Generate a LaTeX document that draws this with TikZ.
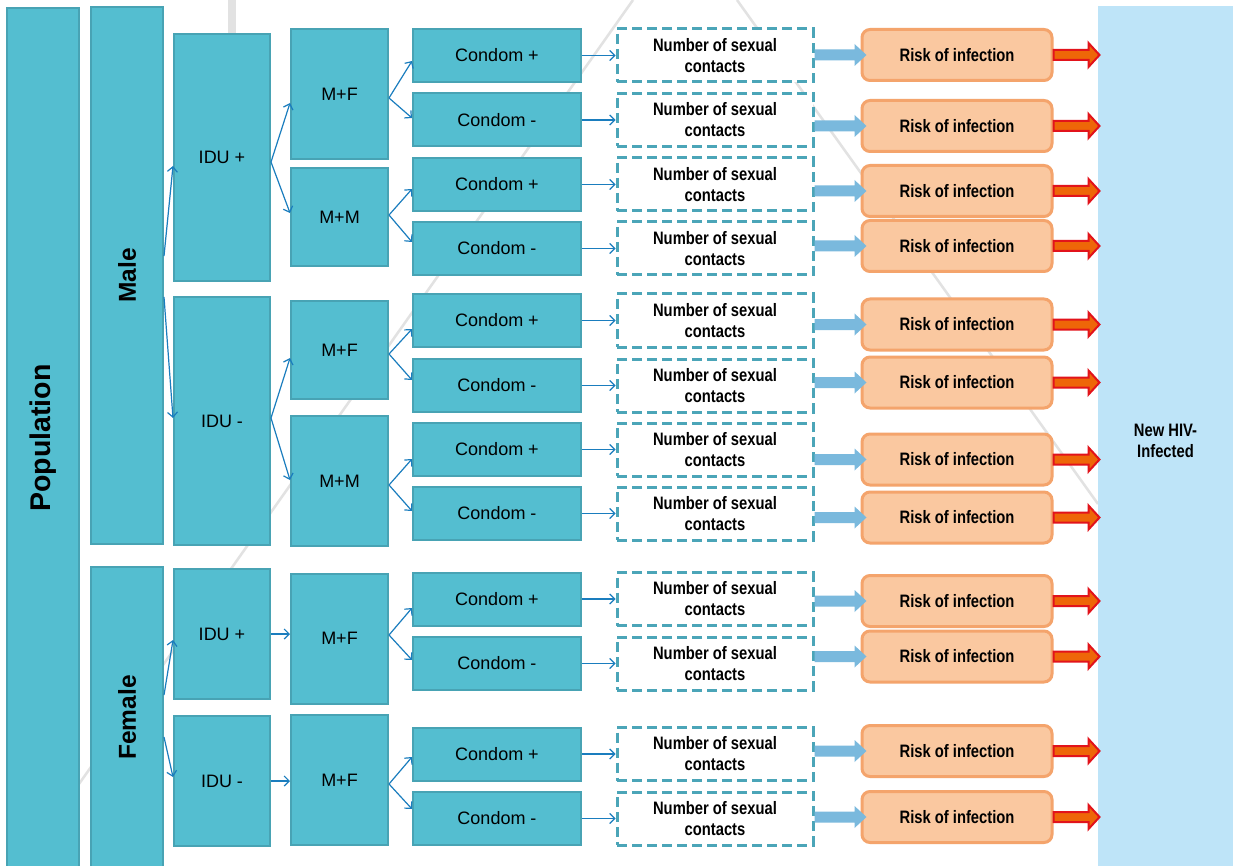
\documentclass[tikz,border=0pt]{standalone}
\usepackage{fontspec}
\usepackage{graphicx}
\usepackage{tikz}
\usetikzlibrary{arrows.meta}
\setmainfont{Liberation Sans}
\newfontfamily\narrowfont[FakeStretch=0.82]{Liberation Sans}
\definecolor{background}{RGB}{255, 255, 255}
\definecolor{boxfill}{HTML}{54BED0}
\definecolor{boxborder}{HTML}{48A3B4}
\definecolor{dashborder}{HTML}{4BA5B8}
\definecolor{flowblue}{HTML}{1A7DBE}
\definecolor{feedblue}{HTML}{7AB9DD}
\definecolor{riskfill}{HTML}{FAC8A0}
\definecolor{riskborder}{HTML}{F4A46C}
\definecolor{outfill}{HTML}{EE6608}
\definecolor{outborder}{HTML}{E2131B}
\definecolor{newinfected}{HTML}{BEE4F8}
\definecolor{watermark}{HTML}{E2E2E2}
\tikzset{
	groupbox/.style={draw=boxborder, fill=boxfill, line width=2pt, inner sep=0pt, font=\fontsize{18}{21}\selectfont},
	columnbox/.style={groupbox, minimum width=72pt, font=\bfseries\fontsize{24.5}{28}\selectfont},
	idubox/.style={groupbox, minimum width=96pt},
	pairbox/.style={groupbox, minimum width=97pt},
	condombox/.style={groupbox, minimum width=168pt, minimum height=53pt},
	contactbox/.style={draw=dashborder, dash pattern=on 10pt off 5pt, line width=3pt, fill=white, inner sep=0pt, minimum width=196pt, minimum height=53pt, align=center, font=\narrowfont\bfseries\fontsize{18}{21}\selectfont},
	riskbox/.style={draw=riskborder, fill=riskfill, line width=3pt, rounded corners=8pt, inner sep=0pt, minimum width=190pt, minimum height=51pt, font=\narrowfont\bfseries\fontsize{18}{21}\selectfont},
	flowarrow/.style={draw=flowblue, line width=1.2pt, -{Straight Barb[length=5pt,width=10pt]}}
}
% thick blue arrow from the contact box to the risk box, at the risk box height
\newcommand{\feedarrow}[2]{\fill[feedblue] (#1.east |- #2.west) ++(0,-5.5) -- ++(40,0) -- ++(0,-5.5) -- ++(12,11) -- ++(-12,11) -- ++(0,-5.5) -- ++(-40,0) -- cycle;}
% outlined red arrow from a risk box into the panel
\newcommand{\outarrow}[1]{\filldraw[fill=outfill, draw=outborder, line width=2pt] (#1.east) ++(0,-5) -- ++(35,0) -- ++(0,-7) -- ++(11,12) -- ++(-11,12) -- ++(0,-7) -- ++(-35,0) -- cycle;}

\begin{document}
\begin{tikzpicture}[x=1pt,y=-1pt]
				% Boundary box
				\useasboundingbox (0,0) rectangle (1233,866);
				\fill[background] (0,0) rectangle (1233,866);

				% Faint pyramid behind the boxes
				\draw[watermark, line width=2.5pt] (633,0) -- (21,866);
				\draw[watermark, line width=2.5pt] (737,0) -- (1098,504);
				\fill[watermark] (228,0) rectangle (236,40);

				% Right panel
				\node[fill=newinfected, minimum width=135pt, minimum height=870pt, inner sep=0pt, align=center, font=\narrowfont\bfseries\fontsize{18}{21}\selectfont] (newhiv) at (1165.5,441) {New HIV-\\Infected};

				% Population, then male and female
				\node[columnbox, minimum height=860pt, font=\bfseries\fontsize{28.5}{32}\selectfont] (population) at (43,438) {\rotatebox{90}{Population}};
				\node[columnbox, minimum height=537pt] (male) at (127,275.5) {\rotatebox{90}{Male}};
				\node[columnbox, minimum height=301pt] (female) at (127,717.5) {\rotatebox{90}{Female}};

				% Drug use
				\node[idubox, minimum height=247pt] (iduplusmale) at (222,157.5) {IDU +};
				\node[idubox, minimum height=248pt] (iduminusmale) at (222,421) {IDU -};
				\node[idubox, minimum height=130pt] (iduplusfemale) at (222,634) {IDU +};
				\node[idubox, minimum height=130pt] (iduminusfemale) at (222,781) {IDU -};

				% Partner pairs
				\node[pairbox, minimum height=130pt] (mfone) at (339.5,94) {M+F};
				\node[pairbox, minimum height=98pt] (mmone) at (339.5,217) {M+M};
				\node[pairbox, minimum height=98pt] (mftwo) at (339.5,350) {M+F};
				\node[pairbox, minimum height=130pt] (mmtwo) at (339.5,481) {M+M};
				\node[pairbox, minimum height=130pt] (mfthree) at (339.5,638.5) {M+F};
				\node[pairbox, minimum height=130pt] (mffour) at (339.5,780) {M+F};

				% Condom use
				\node[condombox] (condom1) at (497,55.5) {Condom +};
				\node[condombox] (condom2) at (497,120) {Condom -};
				\node[condombox] (condom3) at (497,184.5) {Condom +};
				\node[condombox] (condom4) at (497,248.5) {Condom -};
				\node[condombox] (condom5) at (497,320.5) {Condom +};
				\node[condombox] (condom6) at (497,385.5) {Condom -};
				\node[condombox] (condom7) at (497,449.5) {Condom +};
				\node[condombox] (condom8) at (497,513.5) {Condom -};
				\node[condombox] (condom9) at (497,599) {Condom +};
				\node[condombox] (condom10) at (497,663.5) {Condom -};
				\node[condombox] (condom11) at (497,754) {Condom +};
				\node[condombox] (condom12) at (497,818.5) {Condom -};

				% Contacts
				\node[contactbox] (contact1) at (715,55.5) {Number of sexual\\contacts};
				\node[contactbox] (contact2) at (715,120) {Number of sexual\\contacts};
				\node[contactbox] (contact3) at (715,184.5) {Number of sexual\\contacts};
				\node[contactbox] (contact4) at (715,248.5) {Number of sexual\\contacts};
				\node[contactbox] (contact5) at (715,320.5) {Number of sexual\\contacts};
				\node[contactbox] (contact6) at (715,385.5) {Number of sexual\\contacts};
				\node[contactbox] (contact7) at (715,449.5) {Number of sexual\\contacts};
				\node[contactbox] (contact8) at (715,513.5) {Number of sexual\\contacts};
				\node[contactbox] (contact9) at (715,599) {Number of sexual\\contacts};
				\node[contactbox] (contact10) at (715,663.5) {Number of sexual\\contacts};
				\node[contactbox] (contact11) at (715,754) {Number of sexual\\contacts};
				\node[contactbox] (contact12) at (715,818.5) {Number of sexual\\contacts};

				% Risk
				\node[riskbox] (risk1) at (957,55) {Risk of infection};
				\node[riskbox] (risk2) at (957,126) {Risk of infection};
				\node[riskbox] (risk3) at (957,191) {Risk of infection};
				\node[riskbox] (risk4) at (957,246) {Risk of infection};
				\node[riskbox] (risk5) at (957,324.5) {Risk of infection};
				\node[riskbox] (risk6) at (957,382.5) {Risk of infection};
				\node[riskbox] (risk7) at (957,459.5) {Risk of infection};
				\node[riskbox] (risk8) at (957,517.5) {Risk of infection};
				\node[riskbox] (risk9) at (957,601) {Risk of infection};
				\node[riskbox] (risk10) at (957,656.5) {Risk of infection};
				\node[riskbox] (risk11) at (957,751) {Risk of infection};
				\node[riskbox] (risk12) at (957,817) {Risk of infection};

				% Thin arrows
				% Male branch
				\draw[flowarrow] ([yshift=19.5pt]male.east) -- ([yshift=-8.5pt]iduplusmale.west);
				\draw[flowarrow] ([yshift=-21.5pt]male.east) -- ([yshift=3pt]iduminusmale.west);
				\draw[flowarrow] ([yshift=-4.5pt]iduplusmale.east) -- ([yshift=-9pt]mfone.west);
				\draw[flowarrow] ([yshift=-4.5pt]iduplusmale.east) -- ([yshift=4pt]mmone.west);
				\draw[flowarrow] ([yshift=3pt]iduminusmale.east) -- ([yshift=-8pt]mftwo.west);
				\draw[flowarrow] ([yshift=3pt]iduminusmale.east) -- ([yshift=1pt]mmtwo.west);
				\draw[flowarrow] ([yshift=-4pt]mfone.east) -- ([yshift=-5.5pt]condom1.west);
				\draw[flowarrow] ([yshift=-4pt]mfone.east) -- ([yshift=2pt]condom2.west);
				\draw[flowarrow] ([yshift=2pt]mmone.east) -- ([yshift=-4.5pt]condom3.west);
				\draw[flowarrow] ([yshift=2pt]mmone.east) -- ([yshift=6.5pt]condom4.west);
				\draw[flowarrow] ([yshift=-4pt]mftwo.east) -- ([yshift=-8.5pt]condom5.west);
				\draw[flowarrow] ([yshift=-4pt]mftwo.east) -- ([yshift=5.5pt]condom6.west);
				\draw[flowarrow] ([yshift=-4pt]mmtwo.east) -- ([yshift=-9.5pt]condom7.west);
				\draw[flowarrow] ([yshift=-4pt]mmtwo.east) -- ([yshift=2.5pt]condom8.west);
				% Female branch
				\draw[flowarrow] ([yshift=22.5pt]female.east) -- ([yshift=-6pt]iduplusfemale.west);
				\draw[flowarrow] ([yshift=-19.5pt]female.east) -- ([yshift=4pt]iduminusfemale.west);
				\draw[flowarrow] (iduplusfemale.east) -- (iduplusfemale.east -| mfthree.west);
				\draw[flowarrow] (iduminusfemale.east) -- (iduminusfemale.east -| mffour.west);
				\draw[flowarrow] ([yshift=3.5pt]mfthree.east) -- ([yshift=-9pt]condom9.west);
				\draw[flowarrow] ([yshift=3.5pt]mfthree.east) -- ([yshift=3.5pt]condom10.west);
				\draw[flowarrow] ([yshift=-4pt]mffour.east) -- ([yshift=-3pt]condom11.west);
				\draw[flowarrow] ([yshift=-4pt]mffour.east) -- ([yshift=9.5pt]condom12.west);
				% Condom to contacts
				\draw[flowarrow] (condom1) -- (contact1);
				\draw[flowarrow] (condom2) -- (contact2);
				\draw[flowarrow] (condom3) -- (contact3);
				\draw[flowarrow] (condom4) -- (contact4);
				\draw[flowarrow] (condom5) -- (contact5);
				\draw[flowarrow] (condom6) -- (contact6);
				\draw[flowarrow] (condom7) -- (contact7);
				\draw[flowarrow] (condom8) -- (contact8);
				\draw[flowarrow] (condom9) -- (contact9);
				\draw[flowarrow] (condom10) -- (contact10);
				\draw[flowarrow] (condom11) -- (contact11);
				\draw[flowarrow] (condom12) -- (contact12);

				% Thick arrows
				\feedarrow{contact1}{risk1} \feedarrow{contact2}{risk2} \feedarrow{contact3}{risk3}
				\feedarrow{contact4}{risk4} \feedarrow{contact5}{risk5} \feedarrow{contact6}{risk6}
				\feedarrow{contact7}{risk7} \feedarrow{contact8}{risk8} \feedarrow{contact9}{risk9}
				\feedarrow{contact10}{risk10} \feedarrow{contact11}{risk11} \feedarrow{contact12}{risk12}
				\outarrow{risk1} \outarrow{risk2} \outarrow{risk3} \outarrow{risk4}
				\outarrow{risk5} \outarrow{risk6} \outarrow{risk7} \outarrow{risk8}
				\outarrow{risk9} \outarrow{risk10} \outarrow{risk11} \outarrow{risk12}
			\end{tikzpicture}
\end{document}
